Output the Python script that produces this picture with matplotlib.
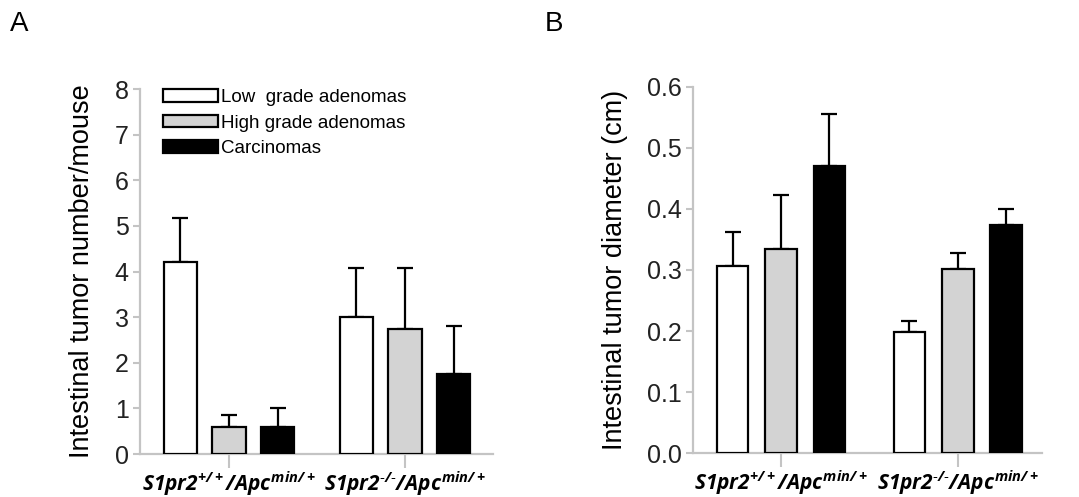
import matplotlib
matplotlib.use("Agg")
import matplotlib.pyplot as plt
from matplotlib.patches import Patch
import numpy as np

plt.rcParams['font.family'] = ['Liberation Sans', 'DejaVu Sans']
plt.rcParams['mathtext.fontset'] = 'custom'
plt.rcParams['mathtext.rm'] = 'Open Sans:bold:italic'
plt.rcParams['mathtext.it'] = 'Open Sans:bold:italic'
plt.rcParams['mathtext.bf'] = 'Open Sans:bold:italic'

groups = ['$S1pr2^{+/+}/Apc^{min/+}$', '$S1pr2^{\u2010/\u2010}/Apc^{min/+}$']
series = ['Low  grade adenomas', 'High grade adenomas', 'Carcinomas']
colors = ['white', '#d3d3d3', 'black']

# Panel A: tumor number per mouse (mean, SEM)
a_low = [4.2, 3.0]
a_high = [0.6, 2.75]
a_carc = [0.6, 1.75]
a_low_err = [0.97, 1.08]
a_high_err = [0.25, 1.33]
a_carc_err = [0.40, 1.05]

# Panel B: tumor diameter (cm)
b_low = [0.307, 0.199]
b_high = [0.334, 0.302]
b_carc = [0.470, 0.373]
b_low_err = [0.056, 0.018]
b_high_err = [0.089, 0.026]
b_carc_err = [0.085, 0.027]

fig = plt.figure(figsize=(10.79, 4.97), dpi=100)
axA = fig.add_axes([0.1297, 0.0865, 0.3272, 0.7344])
axB = fig.add_axes([0.6423, 0.0885, 0.3234, 0.7365])

gray = '#c4c4c4'

def draw(ax, vals, errs, width, spacing, ylim, yticks, yticklabels, ylabel, xlim, labelpad):
    x = np.arange(len(groups))
    for i, (v, e) in enumerate(zip(vals, errs)):
        pos = x + (i - 1) * spacing
        ax.bar(pos, v, width, color=colors[i], edgecolor='black', linewidth=1.6,
               zorder=3, label=series[i])
        ax.errorbar(pos, v, yerr=[np.zeros(len(e)), e], fmt='none', ecolor='black',
                    elinewidth=1.6, capsize=5.5, capthick=1.6, zorder=2)
    ax.set_ylim(*ylim)
    ax.set_xlim(*xlim)
    ax.set_yticks(yticks)
    ax.set_yticklabels(yticklabels, fontsize=18)
    ax.set_xticks(x)
    ax.set_xticklabels(groups, fontsize=15)
    ax.set_ylabel(ylabel, fontsize=19.5, labelpad=labelpad)
    for s in ['top', 'right']:
        ax.spines[s].set_visible(False)
    for s in ['left', 'bottom']:
        ax.spines[s].set_color(gray)
        ax.spines[s].set_linewidth(1.6)
    ax.tick_params(axis='y', colors=gray, labelcolor='#222222', length=5, width=1.5, pad=3)
    ax.tick_params(axis='x', colors=gray, labelcolor='black', length=10, width=1.5, pad=1)

draw(axA, [a_low, a_high, a_carc], [a_low_err, a_high_err, a_carc_err],
     0.19, 0.276, (0, 8), range(0, 9), [str(i) for i in range(9)],
     'Intestinal tumor number/mouse', (-0.506, 1.5), 14)
draw(axB, [b_low, b_high, b_carc], [b_low_err, b_high_err, b_carc_err],
     0.18, 0.274, (0, 0.6), np.arange(0, 0.61, 0.1), ['%.1f' % v for v in np.arange(0, 0.61, 0.1)],
     'Intestinal tumor diameter (cm)', (-0.497, 1.475), 14)

handles = [Patch(facecolor=c, edgecolor='black', linewidth=1.6) for c in colors]
axA.legend(handles, series, loc='upper left', bbox_to_anchor=(0.045, 1.02), frameon=False,
           fontsize=13.5, handlelength=2.9, handleheight=0.65, handletextpad=0.15,
           labelspacing=0.45, borderaxespad=0)

fig.text(0.009, 0.952, 'A', fontsize=20, va='center', ha='left')
fig.text(0.505, 0.952, 'B', fontsize=20, va='center', ha='left')

fig.savefig('out.png', dpi=100)
